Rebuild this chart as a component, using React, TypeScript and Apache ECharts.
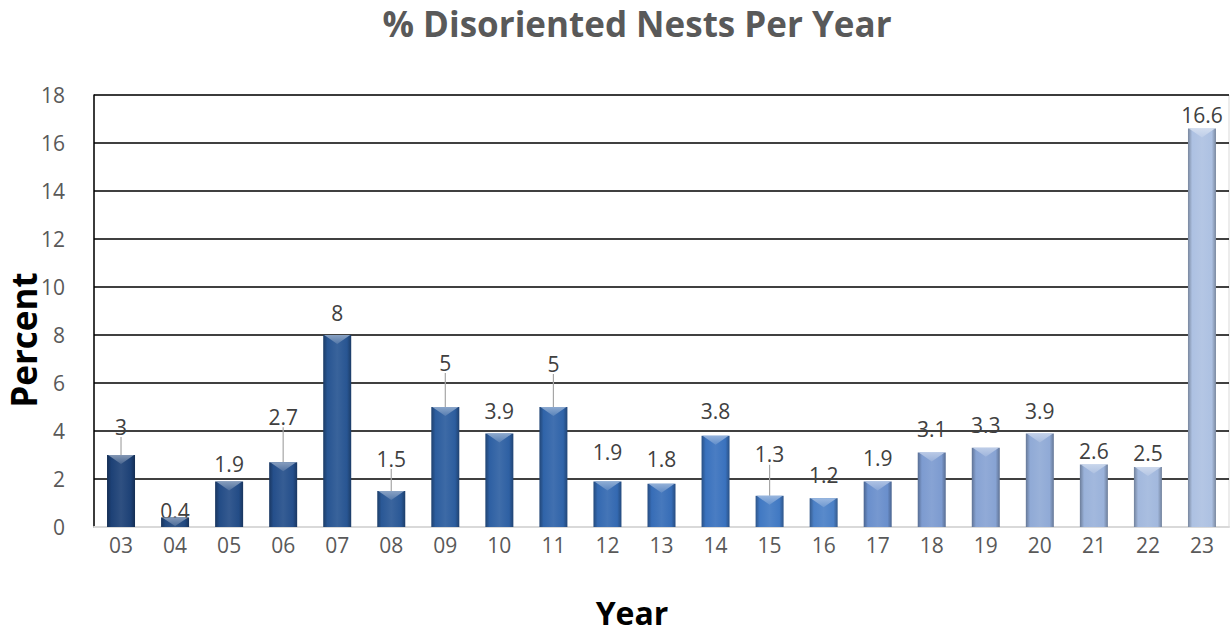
import React, { useEffect, useRef } from "react";
import * as echarts from "echarts";

const years = ["03", "04", "05", "06", "07", "08", "09", "10", "11", "12", "13", "14", "15", "16", "17", "18", "19", "20", "21", "22", "23"];
const percents = [3, 0.4, 1.9, 2.7, 8, 1.5, 5, 3.9, 5, 1.9, 1.8, 3.8, 1.3, 1.2, 1.9, 3.1, 3.3, 3.9, 2.6, 2.5, 16.6];
const yTicks = { min: 0, max: 18, interval: 2 };

// styling (not data): bar base colours, label lift above bar top, leader lines
const barColors = ["#1d4176", "#21487f", "#234c86", "#254f8b", "#285592", "#2a5896", "#2c5d9e", "#2e60a3", "#3064a9", "#3469b1", "#376db7", "#3a72be", "#4179c3", "#4b80c6", "#6a8fcc", "#7d9bd0", "#87a3d3", "#90aad6", "#9ab2da", "#a2b8dd", "#adc1e2"];
const labelLift = [30, 8, 19, 47, 24, 34, 46, 24, 45, 31, 26, 26, 43, 25, 25, 25, 24, 24, 15, 16, 15];
const leader = [true, false, false, true, false, true, true, false, true, false, false, false, true, false, false, false, false, false, false, false, false];

const FONT = "Open Sans";

function hexToRgb(h: string) {
  const n = parseInt(h.slice(1), 16);
  return [(n >> 16) & 255, (n >> 8) & 255, n & 255];
}
function mix(h: string, target: number, t: number) {
  const c = hexToRgb(h).map((v) => Math.round(v + (target - v) * t));
  return `rgb(${c[0]},${c[1]},${c[2]})`;
}

export default function App() {
  const ref = useRef<HTMLDivElement>(null);
  useEffect(() => {
    if (!ref.current) return;
    const chart = echarts.init(ref.current, null, { renderer: "svg" });
    const DEFAULT_LIFT = 16;
    chart.setOption({
      animation: false,
      backgroundColor: "#ffffff",
      title: {
        text: "% Disoriented Nests Per Year",
        left: 632,
        textAlign: "center",
        top: 1,
        textStyle: { fontFamily: FONT, fontSize: 35, fontWeight: "bold", color: "#595959" },
      },
      grid: { left: 94, right: 1, top: 95, bottom: 106, show: true, borderColor: "#d9d9d9", borderWidth: 1 },
      xAxis: {
        type: "category",
        data: years,
        axisLine: { show: true, lineStyle: { color: "#d9d9d9", width: 2 } },
        axisTick: { show: false },
        axisLabel: { color: "#595959", fontFamily: FONT, fontSize: 21, margin: 7 },
      },
      yAxis: {
        type: "value",
        min: yTicks.min,
        max: yTicks.max,
        interval: yTicks.interval,
        axisLine: { show: true, lineStyle: { color: "#000000", width: 1.5 } },
        axisTick: { show: false },
        splitLine: { lineStyle: { color: "#000000", width: 1.5 } },
        axisLabel: { color: "#595959", fontFamily: FONT, fontSize: 21, margin: 29 },
      },
      graphic: [
        {
          type: "text",
          x: 23,
          y: 340,
          rotation: Math.PI / 2,
          style: { text: "Percent", fontFamily: FONT, fontSize: 35, lineHeight: 38, fontWeight: "bold", fill: "#000000", align: "center", verticalAlign: "middle" },
        },
        {
          type: "text",
          x: 632,
          y: 612,
          style: { text: "Year", fontFamily: FONT, fontSize: 32, fontWeight: "bold", fill: "#000000", align: "center", verticalAlign: "middle" },
        },
      ],
      series: [
        {
          type: "bar",
          barWidth: 28,
          data: percents.map((v, i) => ({
            value: v,
            itemStyle: {
              color: new echarts.graphic.LinearGradient(0, 0, 1, 0, [
                { offset: 0, color: mix(barColors[i], 0, 0.3) },
                { offset: 0.15, color: barColors[i] },
                { offset: 0.5, color: mix(barColors[i], 255, 0.08) },
                { offset: 0.85, color: barColors[i] },
                { offset: 1, color: mix(barColors[i], 0, 0.3) },
              ]),
            },
            labelLine: { show: leader[i], lineStyle: { color: "#a6a6a6", width: 1.2 } },
          })),
          label: {
            show: true,
            position: "top",
            distance: 4,
            color: "#404040",
            fontFamily: FONT,
            fontSize: 21,
          },
          labelLayout: (p: any) => ({ dy: -(labelLift[p.dataIndex] - DEFAULT_LIFT) }),
          z: 2,
        },
        {
          type: "custom",
          silent: true,
          z: 3,
          data: percents.map((v, i) => [i, v]),
          encode: { x: 0, y: 1 },
          renderItem: (params: any, api: any) => {
            const i = api.value(0);
            const v = api.value(1);
            const top = api.coord([i, v]);
            const bottom = api.coord([i, 0]);
            const w = 28;
            const depth = Math.min(9, (bottom[1] - top[1]) * 0.9);
            const l = top[0] - w / 2;
            const r = top[0] + w / 2;
            return {
              type: "polygon",
              shape: { points: [[l + 1, top[1]], [r - 1, top[1]], [top[0], top[1] + depth]] },
              style: {
                fill: new echarts.graphic.LinearGradient(0, 0, 0, 1, [
                  { offset: 0, color: mix(barColors[i], 255, 0.45) },
                  { offset: 1, color: mix(barColors[i], 255, 0.2) },
                ]),
              },
            };
          },
        },
      ],
    });
    return () => chart.dispose();
  }, []);
  return <div ref={ref} style={{ width: 1230, height: 633, position: "absolute", left: 0, top: 0 }} />;
}
